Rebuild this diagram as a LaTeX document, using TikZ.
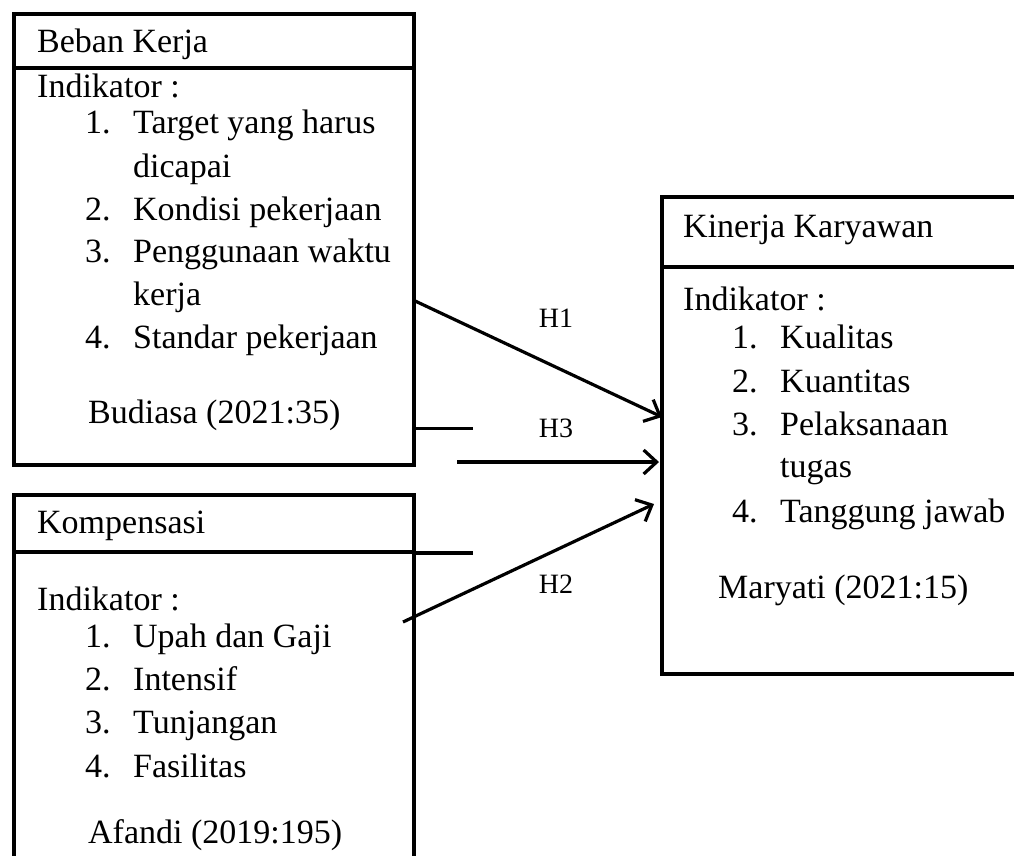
\documentclass[tikz,border=0pt]{standalone}
\usepackage{fontspec}
\setmainfont{Liberation Serif}
\usetikzlibrary{arrows.meta}
\begin{document}
\begin{tikzpicture}[x=1pt,y=-1pt,
  frame/.style={draw=black, line width=3.6pt, rectangle, inner sep=0pt, anchor=north west},
  divider/.style={draw=black, line width=3.6pt},
  txt/.style={anchor=base west, inner sep=0pt, font=\fontsize{34}{40}\selectfont},
  hlabel/.style={anchor=base, inner sep=0pt, font=\fontsize{28}{32}\selectfont},
  link/.style={draw=black, line width=3.2pt, -{Straight Barb[length=13pt,width=24pt,line width=3.2pt]}},
  stub/.style={draw=black, line width=3.6pt}]
\useasboundingbox (0,0) rectangle (1014,855);
\clip (0,0) rectangle (1014,855);

% Box 1: Beban Kerja
\node[frame, minimum width=400pt, minimum height=451pt] (bk) at (12,12) {};
\draw[divider] (12,68) -- (412,68);
\node[txt] (bkt) at (37,52) {Beban Kerja};
\node[txt] (bki) at (37,97) {Indikator :};
\node[txt] (bkn1) at (85,133) {1.};
\node[txt] (bka) at (133,133) {Target yang harus};
\node[txt] (bkb) at (133,177) {dicapai};
\node[txt] (bkn2) at (85,220) {2.};
\node[txt] (bkc) at (133,220) {Kondisi pekerjaan};
\node[txt] (bkn3) at (85,262) {3.};
\node[txt] (bkd) at (133,262) {Penggunaan waktu};
\node[txt] (bke) at (133,305) {kerja};
\node[txt] (bkn4) at (85,348) {4.};
\node[txt] (bkf) at (133,348) {Standar pekerjaan};
\node[txt] (bks) at (88,423) {Budiasa (2021:35)};

% Box 3: Kompensasi
\node[frame, minimum width=400pt, minimum height=420pt] (kp) at (12,493) {};
\draw[divider] (12,552) -- (412,552);
\node[txt] (kpt) at (37,533) {Kompensasi};
\node[txt] (kpi) at (37,610) {Indikator :};
\node[txt] (kpn1) at (85,647) {1.};
\node[txt] (kpa) at (133,647) {Upah dan Gaji};
\node[txt] (kpn2) at (85,690) {2.};
\node[txt] (kpb) at (133,690) {Intensif};
\node[txt] (kpn3) at (85,733) {3.};
\node[txt] (kpc) at (133,733) {Tunjangan};
\node[txt] (kpn4) at (85,777) {4.};
\node[txt] (kpd) at (133,777) {Fasilitas};
\node[txt] (kps) at (88,843) {Afandi (2019:195)};

% Box 2: Kinerja Karyawan
\node[frame, minimum width=380pt, minimum height=477pt] (kk) at (660,195) {};
\draw[divider] (660,267) -- (1040,267);
\node[txt] (kkt) at (683,237) {Kinerja Karyawan};
\node[txt] (kki) at (683,310) {Indikator :};
\node[txt] (kkn1) at (732,348) {1.};
\node[txt] (kka) at (780,348) {Kualitas};
\node[txt] (kkn2) at (732,392) {2.};
\node[txt] (kkb) at (780,392) {Kuantitas};
\node[txt] (kkn3) at (732,435) {3.};
\node[txt] (kkc) at (780,435) {Pelaksanaan};
\node[txt] (kkd) at (780,477) {tugas};
\node[txt] (kkn4) at (732,522) {4.};
\node[txt] (kke) at (780,522) {Tanggung jawab};
\node[txt] (kks) at (718,598) {Maryati (2021:15)};

% connector end points
\coordinate (h1s) at (413,300);
\coordinate (h1e) at (662,417);
\coordinate (h3a) at (412,428);
\coordinate (h3b) at (473,428);
\coordinate (h3s) at (457,462);
\coordinate (h3e) at (659,462);
\coordinate (h2a) at (412,553);
\coordinate (h2b) at (473,553);
\coordinate (h2s) at (403,622);
\coordinate (h2e) at (654,504);

\draw[link] (h1s) -- (h1e);
\draw[stub, line width=3pt] (h3a) -- (h3b);
\draw[link] (h3s) -- (h3e);
\draw[stub, line width=4.5pt] (h2a) -- (h2b);
\draw[link] (h2s) -- (h2e);

\node[hlabel] (lh1) at (556,327) {H1};
\node[hlabel] (lh3) at (556,437) {H3};
\node[hlabel] (lh2) at (556,593) {H2};
\end{tikzpicture}
\end{document}
